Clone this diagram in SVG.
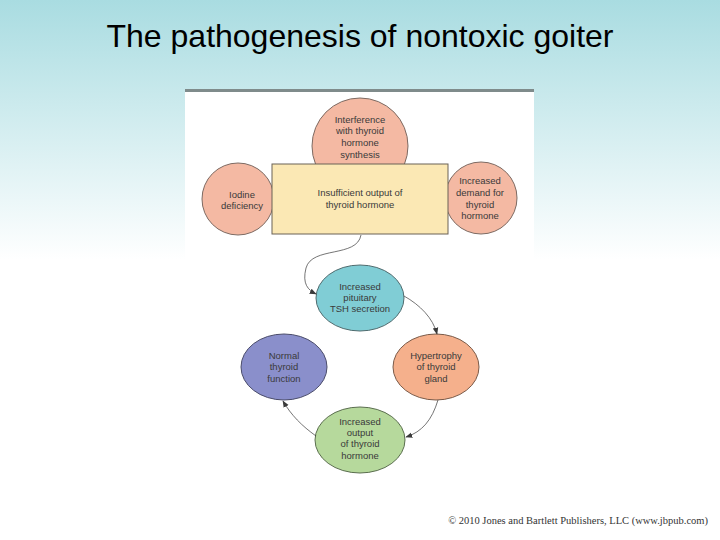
<svg xmlns="http://www.w3.org/2000/svg" width="720" height="540" viewBox="0 0 720 540">
<defs>
<linearGradient id="bg" x1="0" y1="0" x2="0" y2="260" gradientUnits="userSpaceOnUse">
<stop offset="0" stop-color="#a9dce1"/>
<stop offset="1" stop-color="#ffffff"/>
</linearGradient>
<marker id="arr" viewBox="0 0 10 10" refX="9" refY="5" markerWidth="7" markerHeight="7" orient="auto" markerUnits="userSpaceOnUse">
<path d="M0,1 L10,5 L0,9 z" fill="#3a3a3a"/>
</marker>
<style>
.t{font-family:"Liberation Sans",Arial,sans-serif;font-size:9.5px;fill:#3a3a3a;text-anchor:middle}
.salmon{fill:#f4b9a3;stroke:#7d6a62;stroke-width:1}
.conn{fill:none;stroke:#3a3a3a;stroke-width:0.7;marker-end:url(#arr)}
</style>
</defs>
<rect x="0" y="0" width="720" height="540" fill="url(#bg)"/>
<text x="360" y="47" font-family="'Liberation Sans',Arial,sans-serif" font-size="32" fill="#000" text-anchor="middle">The pathogenesis of nontoxic goiter</text>
<rect x="185" y="90" width="349" height="400" fill="#ffffff"/>
<rect x="185" y="89" width="349" height="3" fill="#7f8b8b"/>

<g id="interference">
<circle class="salmon" cx="360" cy="146" r="48"/>
<text class="t" x="360" y="123">Interference</text>
<text class="t" x="360" y="134">with thyroid</text>
<text class="t" x="360" y="146">hormone</text>
<text class="t" x="360" y="158">synthesis</text>
</g>
<g id="iodine">
<circle class="salmon" cx="238" cy="199" r="36"/>
<text class="t" x="242" y="198">Iodine</text>
<text class="t" x="242" y="209">deficiency</text>
</g>
<g id="demand">
<circle class="salmon" cx="481" cy="198" r="36"/>
<text class="t" x="480" y="184">Increased</text>
<text class="t" x="480" y="196">demand for</text>
<text class="t" x="480" y="208">thyroid</text>
<text class="t" x="480" y="219">hormone</text>
</g>
<g id="insufficient">
<rect x="272" y="164" width="176" height="70" fill="#fbe8b4" stroke="#6b6256" stroke-width="1"/>
<text class="t" x="360" y="196">Insufficient output of</text>
<text class="t" x="360" y="208">thyroid hormone</text>
</g>
<g id="tsh">
<ellipse cx="360" cy="298" rx="44" ry="33" fill="#80cdd5" stroke="#4f6b6e" stroke-width="1"/>
<text class="t" x="360" y="290">Increased</text>
<text class="t" x="360" y="301">pituitary</text>
<text class="t" x="360" y="312">TSH secretion</text>
</g>
<g id="normal">
<ellipse cx="284" cy="367" rx="43" ry="33" fill="#8a8fcb" stroke="#4a4c6a" stroke-width="1"/>
<text class="t" x="284" y="359">Normal</text>
<text class="t" x="284" y="370">thyroid</text>
<text class="t" x="284" y="382">function</text>
</g>
<g id="hypertrophy">
<ellipse cx="436" cy="367" rx="43" ry="33" fill="#f5b08c" stroke="#7a5a48" stroke-width="1"/>
<text class="t" x="436" y="359">Hypertrophy</text>
<text class="t" x="436" y="370">of thyroid</text>
<text class="t" x="436" y="382">gland</text>
</g>
<g id="output">
<ellipse cx="360" cy="440" rx="45" ry="33" fill="#b6d99c" stroke="#5a6e4e" stroke-width="1"/>
<text class="t" x="360" y="425">Increased</text>
<text class="t" x="360" y="436">output</text>
<text class="t" x="360" y="447">of thyroid</text>
<text class="t" x="360" y="459">hormone</text>
</g>

<g id="connectors">
<path class="conn" d="M361 235 C357 258 312 246 306 268 C302 284 308 290 316 294"/>
<path class="conn" d="M404 296 C420 305 433 318 437 334"/>
<path class="conn" d="M438 400 C432 420 422 432 406 437"/>
<path class="conn" d="M316 436 C302 426 291 415 283 401"/>
</g>

<text x="708" y="524" font-family="'Liberation Serif','Times New Roman',serif" font-size="10.5" fill="#333" text-anchor="end">© 2010 Jones and Bartlett Publishers, LLC (www.jbpub.com)</text>
</svg>
